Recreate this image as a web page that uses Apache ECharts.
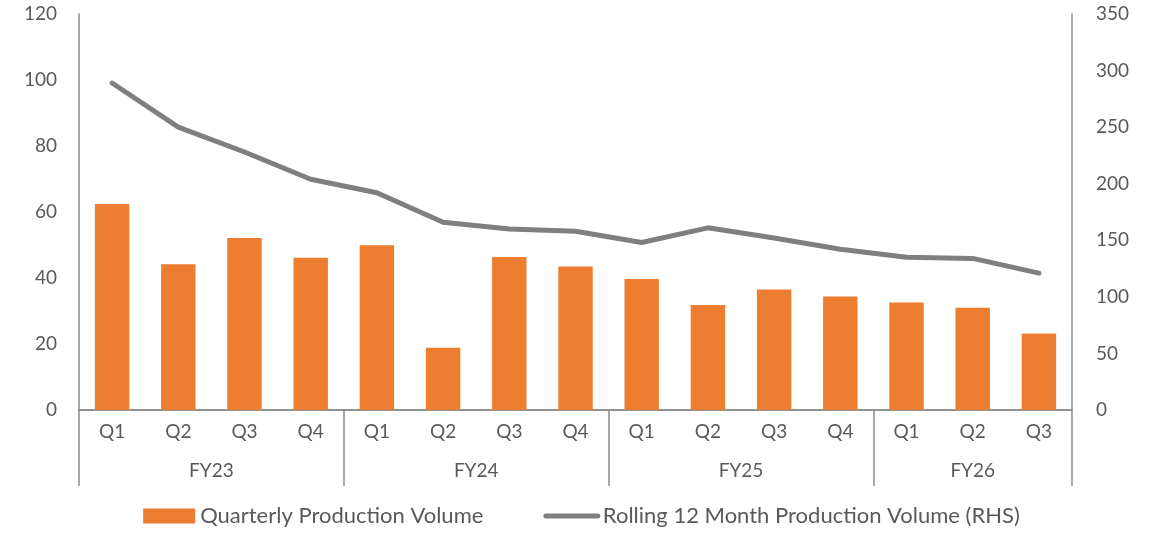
<!DOCTYPE html>
<html>
<head>
<meta charset="utf-8">
<script src="https://cdn.jsdelivr.net/npm/echarts@6/dist/echarts.min.js"></script>
<style>
html,body{margin:0;padding:0;background:#fff;}
#chart{width:1163px;height:533px;}
</style>
</head>
<body>
<div id="chart"></div>
<script>
const quarters = ['Q1','Q2','Q3','Q4','Q1','Q2','Q3','Q4','Q1','Q2','Q3','Q4','Q1','Q2','Q3'];
const groups = ['FY23','FY24','FY25','FY26'];
const groupSizes = [4,4,4,3];
const quarterlyVolume = [62.4,44.2,52.1,46.1,49.9,18.9,46.4,43.5,39.7,31.8,36.5,34.4,32.6,31.0,23.2];
const rollingVolume = [289,250,228,204,192,166,160,158,148,161,152,142,135,134,121];
const leftTicks = {min:0,max:120,interval:20};
const rightTicks = {min:0,max:350,interval:50};

// build half-step slots for the group-level axis
const slots = [];
const boundaries = [];
let start = 0;
const total = quarters.length * 2 + 1;
for (let i = 0; i < total; i++) slots.push('');
groups.forEach((g, k) => {
  boundaries.push(start * 2);
  slots[start * 2 + groupSizes[k]] = g;
  start += groupSizes[k];
});
boundaries.push(start * 2);

const FONT = 'Lato';
const TXT = '#595959';
const AX = '#8c8c8c';

const chart = echarts.init(document.getElementById('chart'), null, {renderer:'canvas'});
chart.setOption({
  animation:false,
  textStyle:{fontFamily:FONT},
  grid:{left:79,right:91,top:14,bottom:123,containLabel:false},
  legend:{
    left:'center', top:500,
    itemWidth:52, itemHeight:15, itemGap:60,
    textStyle:{fontFamily:FONT,fontSize:22,color:TXT},
    data:[
      {name:'Quarterly Production Volume', icon:'rect'},
      {name:'Rolling 12 Month Production Volume (RHS)',
       itemStyle:{opacity:0},
       lineStyle:{width:5,color:'#7F7F7F',cap:'round'}}
    ]
  },
  xAxis:[
    {
      type:'category', data:quarters, position:'bottom',
      axisLine:{show:true,lineStyle:{color:AX,width:1.5}},
      axisTick:{show:false},
      axisLabel:{fontFamily:FONT,fontSize:19,color:TXT,margin:12,interval:0}
    },
    {
      type:'category', data:slots, position:'bottom', boundaryGap:false,
      axisLine:{show:true,lineStyle:{color:AX,width:1.5}},
      axisTick:{show:true,length:76,lineStyle:{color:AX,width:1.5},
        interval:function(i){return boundaries.indexOf(i) >= 0;}},
      axisLabel:{fontFamily:FONT,fontSize:19,color:TXT,margin:51,interval:0},
      splitLine:{show:false}
    }
  ],
  yAxis:[
    {
      type:'value', min:leftTicks.min, max:leftTicks.max, interval:leftTicks.interval,
      axisLine:{show:true,lineStyle:{color:AX,width:1.5}},
      axisTick:{show:false}, splitLine:{show:false},
      axisLabel:{fontFamily:FONT,fontSize:19,color:TXT,margin:22}
    },
    {
      type:'value', min:rightTicks.min, max:rightTicks.max, interval:rightTicks.interval,
      position:'right',
      axisLine:{show:true,lineStyle:{color:AX,width:1.5}},
      axisTick:{show:false}, splitLine:{show:false},
      axisLabel:{fontFamily:FONT,fontSize:19,color:TXT,margin:24}
    }
  ],
  series:[
    {
      name:'Quarterly Production Volume', type:'bar', xAxisIndex:0, yAxisIndex:0,
      data:quarterlyVolume, barWidth:'52%',
      itemStyle:{color:'#ED7D31'}
    },
    {
      name:'Rolling 12 Month Production Volume (RHS)', type:'line', xAxisIndex:0, yAxisIndex:1,
      data:rollingVolume, symbol:'none',
      lineStyle:{color:'#7F7F7F',width:5,cap:'round',join:'round'},
      itemStyle:{color:'#7F7F7F'}
    }
  ]
});
</script>
</body>
</html>
